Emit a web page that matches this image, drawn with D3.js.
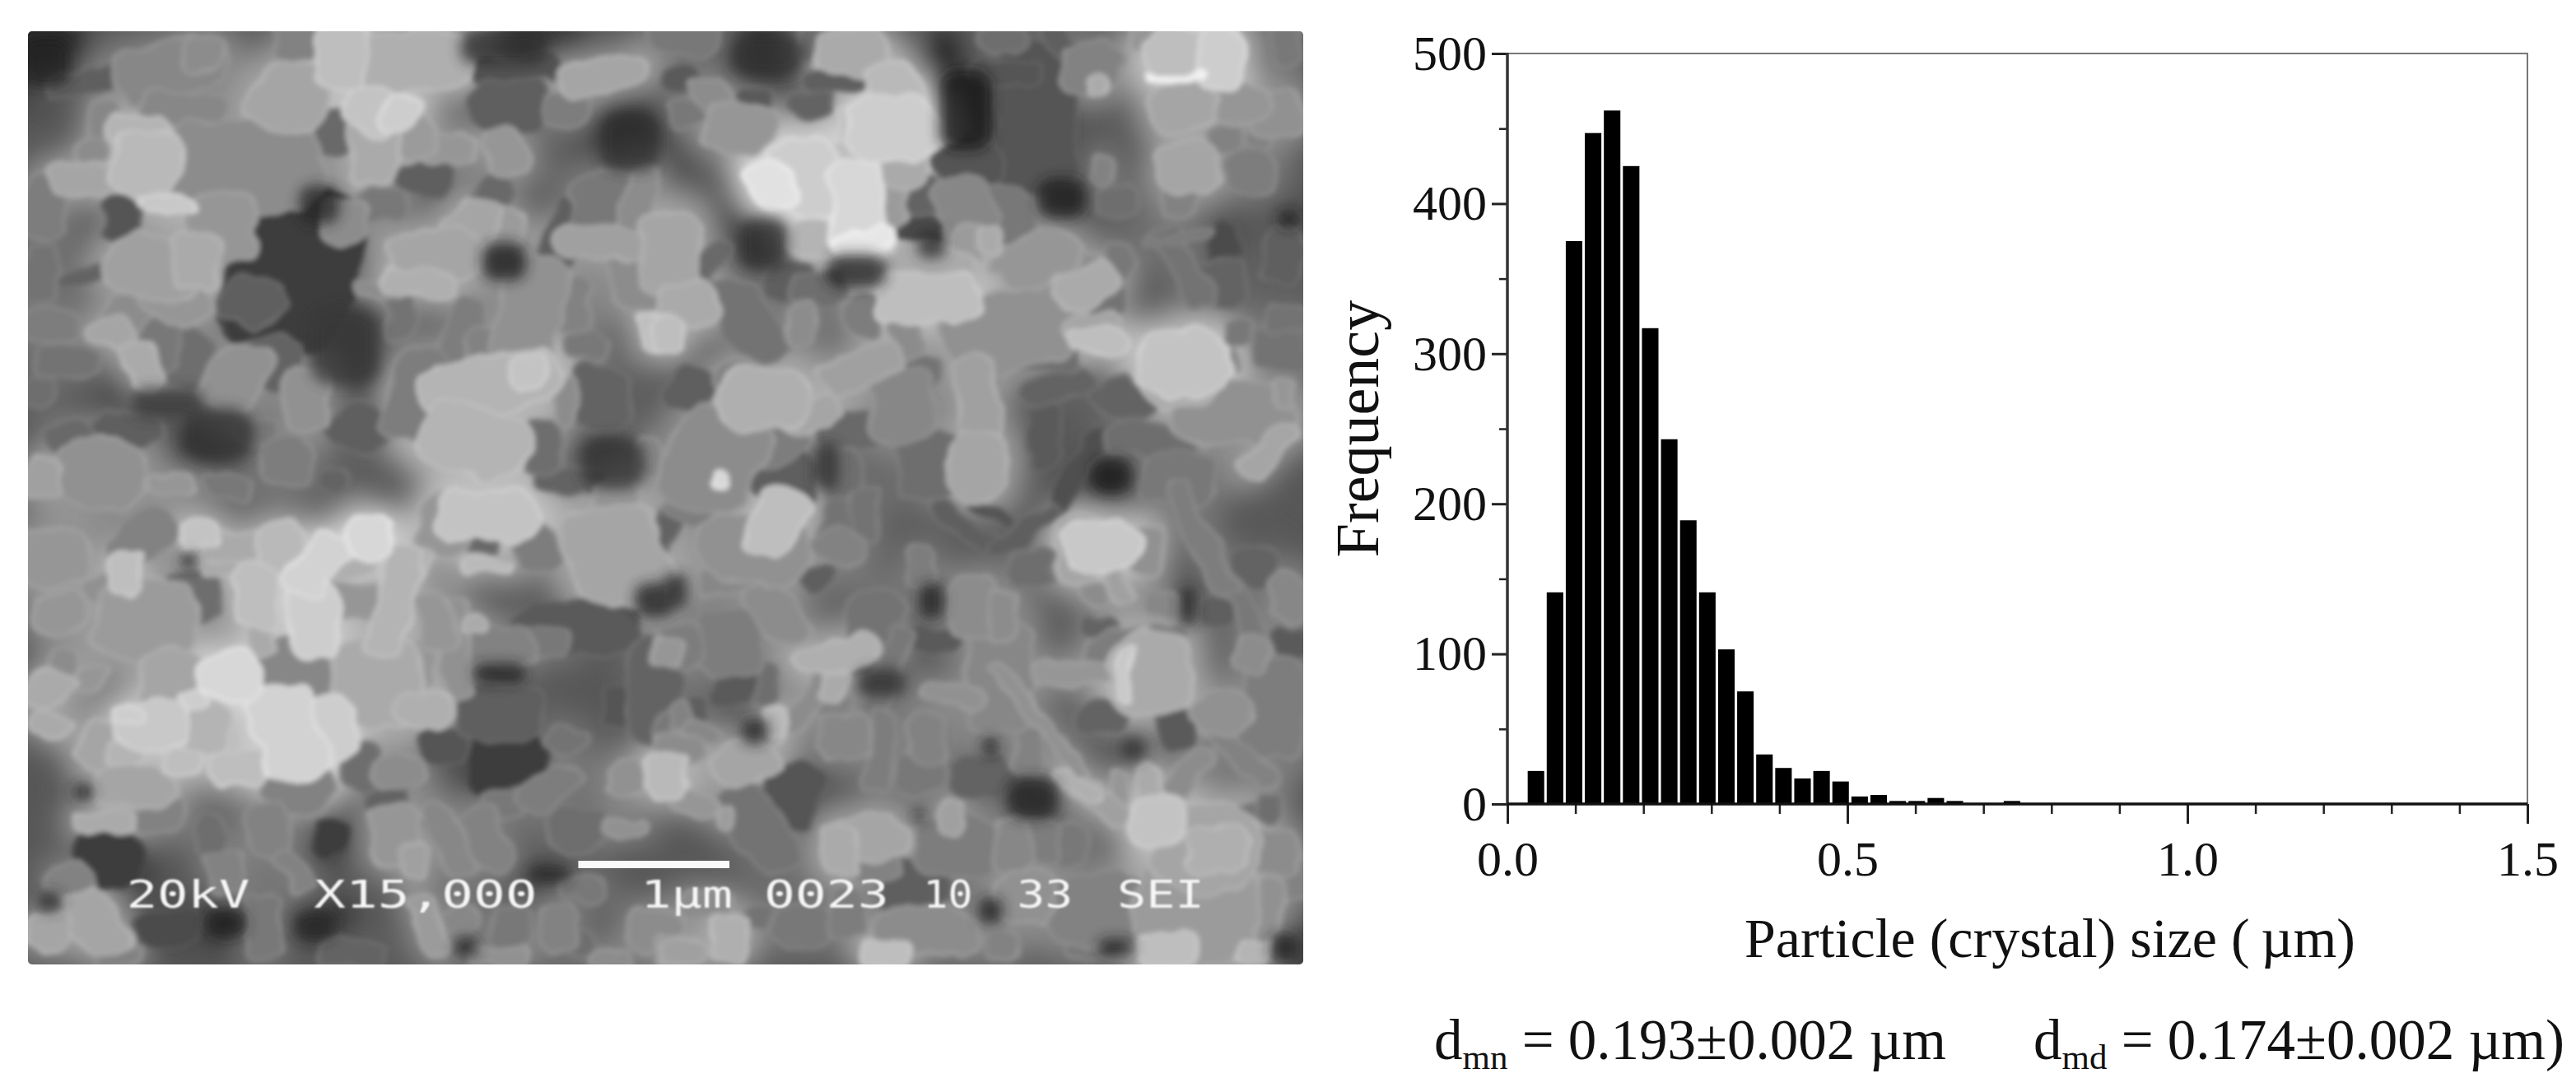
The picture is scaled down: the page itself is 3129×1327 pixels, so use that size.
<![CDATA[<!DOCTYPE html>
<html><head><meta charset="utf-8">
<script src="https://cdn.jsdelivr.net/npm/d3@7/dist/d3.min.js"></script>
<style>html,body{margin:0;padding:0;background:#fff;overflow:hidden}svg{display:block}</style>
</head><body><div id="chart"></div>
<script>
// ---- histogram data read from the picture ----
const binCenters = [0.042,0.070,0.098,0.126,0.154,0.182,0.210,0.238,0.266,0.294,0.322,0.350,0.378,0.406,0.434,0.462,0.490,0.518,0.546,0.574,0.602,0.630,0.658,0.686,0.714,0.742];
const frequency  = [22,141,375,447,462,425,317,243,189,141,103,75,33,24,17,22,15,5,6,2,2,4,2,0,0,2];
const binWidth = 0.0243;
const xMajor = [0,0.5,1.0,1.5], xMinor = [0.1,0.2,0.3,0.4,0.6,0.7,0.8,0.9,1.1,1.2,1.3,1.4];
const yMajor = [0,100,200,300,400,500], yMinor = [50,150,250,350,450];
const xTitle = "Particle (crystal) size (\u2009\u00b5m)", yTitle = "Frequency";
const statMn = ["d","mn"," = 0.193\u00b10.002 \u00b5m"], statMd = ["d","md"," = 0.174\u00b10.002 \u00b5m)"];
// ---- micrograph: SEM panel, grains traced by eye: centre x,y, w,h, angle, grey ----
const photoText = [["20kV",77,152],["X15,000",191,327],["1\u00b5m",390,446],["0023",465,541],["10",562,592],["33",619,653],["SEI",680,733]];
const grainsA = [[110,200,120,160,0,35],[700,850,240,420,10,62],[820,1100,170,260,0,55],[1200,830,110,130,0,30],[1500,450,150,200,0,45],[1460,1470,160,180,0,50],[520,1380,180,180,0,50],[1200,150,220,120,0,45],[760,650,100,130,0,40],[400,1280,180,100,0,55],[580,530,300,230,0,140],[200,260,150,60,-10,95],[400,220,220,130,-20,135],[480,170,70,90,0,140],[440,350,160,90,10,135],[250,390,60,110,0,135],[330,420,120,90,0,180],[350,520,130,170,10,185],[210,570,150,80,0,165],[215,480,60,60,0,140],[400,645,110,35,10,200],[105,660,80,150,0,125],[290,700,70,110,0,85],[530,720,130,170,0,150],[470,830,80,140,0,170],[370,850,190,150,20,160],[420,960,130,100,30,150],[300,1000,90,100,30,140],[270,1060,90,60,30,165],[340,1160,60,120,-20,170],[380,1090,70,130,0,120],[100,870,60,150,0,115],[120,1040,110,90,0,125],[160,1150,120,70,0,115],[90,1240,60,80,0,110],[210,870,120,40,-15,100],[560,1200,110,170,25,145],[450,1140,80,150,10,110],[730,1270,80,170,0,145],[650,1150,110,130,0,100],[600,960,120,120,30,95],[680,1470,90,120,0,125],[610,1370,80,60,0,120],[860,1360,120,130,40,95],[240,1500,170,180,0,145],[100,1520,70,100,0,160],[410,1540,90,60,0,150],[540,1540,90,60,0,120],[170,1390,90,80,0,105],[300,1370,140,70,0,95],[800,1520,60,60,0,100],[690,310,140,170,20,165],[700,130,70,100,0,130],[810,170,100,190,0,190],[960,200,240,150,-10,175],[1040,180,130,110,0,170],[890,350,120,110,30,195],[950,360,70,90,30,205],[890,480,90,170,0,170],[990,440,80,100,0,155],[1060,470,110,80,0,150],[780,420,110,120,0,105],[1015,570,100,90,0,95],[820,700,90,110,0,140],[910,650,90,80,0,120],[1205,480,80,120,-20,150],[1350,350,80,90,0,125],[1430,240,170,80,-15,165],[1210,340,150,130,0,95],[1230,220,170,60,-5,85],[1180,620,80,100,20,105],[1120,710,100,120,30,165],[1190,730,90,90,0,155],[1040,810,170,130,-15,165],[1000,900,130,70,10,175],[900,920,100,40,10,140],[950,1000,50,140,0,115],[1100,1050,60,170,15,125],[1260,1000,120,300,10,145],[1360,970,70,140,0,130],[1150,1130,70,130,0,130],[990,1250,100,230,10,125],[1160,1220,270,130,-15,180],[1260,1180,60,90,0,195],[1130,1400,210,170,20,180],[1350,1280,40,120,0,140],[1430,1260,110,170,0,100],[1400,1100,70,70,0,120],[1290,1420,70,140,0,110],[1430,650,120,170,0,120],[1520,640,60,180,10,140],[1430,770,170,80,10,160],[1530,880,120,180,0,140],[1550,1060,40,90,0,190],[1340,750,70,200,15,95],[1360,1530,130,60,0,100],[1545,1450,50,90,0,135]];
const grainsB = [[730,280,130,280,0,25],[260,100,180,150,0,50],[250,720,120,180,0,45],[470,810,150,120,0,35],[960,570,120,140,0,30],[650,720,70,100,0,45],[1500,640,50,60,0,30],[1080,1480,100,120,0,30],[400,1450,60,160,0,50],[900,300,150,380,0,85],[740,460,130,120,-10,85],[60,40,130,90,0,120],[460,90,130,130,0,170],[370,60,60,90,0,110],[420,180,110,60,0,95],[570,230,90,180,-20,185],[560,340,170,170,0,205],[470,330,60,100,0,190],[130,240,70,100,-20,140],[190,340,130,130,30,150],[60,290,70,70,0,120],[60,180,70,70,0,90],[220,250,60,60,0,90],[360,260,90,70,0,100],[430,430,110,80,-10,190],[580,450,100,130,0,170],[270,530,90,130,-25,225],[360,500,130,210,-10,205],[470,600,100,250,0,215],[390,700,120,90,0,180],[490,710,120,60,-25,230],[540,590,90,130,0,155],[620,570,80,100,0,100],[730,600,110,150,-15,135],[810,620,130,150,0,120],[620,680,70,70,0,75],[730,760,60,170,10,155],[790,710,40,70,0,170],[640,820,170,150,30,170],[640,900,200,130,0,190],[700,850,100,130,0,160],[30,750,110,220,0,165],[130,780,40,120,20,105],[70,920,110,120,0,170],[20,1020,60,90,0,190],[210,970,110,220,-30,115],[340,990,50,110,0,140],[490,950,70,110,15,125],[380,870,110,90,0,110],[310,840,100,100,0,95],[590,1030,60,100,-15,140],[900,770,170,130,-35,150],[1020,860,130,80,-35,170],[1000,780,60,90,-35,140],[850,1000,280,200,-20,145],[1050,1040,120,60,0,190],[1030,1000,100,90,0,165],[1090,800,60,110,25,120],[1060,900,90,80,0,115],[920,1100,120,60,0,110],[950,1190,150,70,-20,100],[760,1260,70,270,-5,160],[760,1450,110,170,0,165],[790,1130,50,60,0,130],[480,1130,170,90,-35,160],[250,1230,170,160,0,175],[360,1280,130,80,-20,165],[190,1160,90,70,0,130],[80,1200,100,120,30,95],[130,1430,180,260,20,140],[140,1500,30,50,0,215],[270,1380,130,110,-35,125],[460,1330,130,100,0,105],[580,1250,120,200,0,135],[600,1150,120,100,0,115],[640,1450,110,180,0,110],[440,1490,60,150,0,110],[300,1490,120,130,0,95],[920,1350,60,170,0,90],[1000,1460,40,250,25,80],[1100,1230,120,90,40,100],[1170,1360,160,90,0,110],[1240,1490,140,150,0,120],[1370,1280,230,150,0,145],[1450,1400,50,150,30,165],[1250,1110,170,170,0,195],[1240,1190,130,90,0,170],[1350,1110,40,80,0,135],[1480,1050,100,130,0,115],[1490,970,90,60,0,115],[1380,1010,50,70,0,120],[1490,1210,40,70,0,150],[1250,800,60,230,-20,115],[1320,850,130,120,0,100],[1490,760,80,140,0,95],[1350,720,50,130,0,75],[1240,700,130,20,-10,120],[1030,140,110,130,0,130],[1045,205,40,50,0,170],[1240,100,130,130,0,190],[1340,110,80,160,0,205],[1250,270,130,130,0,165],[1230,175,120,15,0,235],[1380,260,120,90,-30,150],[1470,290,100,130,0,145],[1260,470,110,130,0,165],[1350,380,60,70,0,130],[1430,380,50,60,0,130],[1410,490,100,110,0,125],[1240,580,60,90,0,130],[1060,470,40,80,0,130],[1090,580,70,80,0,110],[1180,40,90,70,0,150],[1490,70,60,110,0,120],[820,50,90,80,0,110],[960,60,50,100,-25,95],[830,160,140,60,0,85]];
const grainsC = [[390,220,40,60,0,35],[140,980,50,60,0,35],[1130,590,130,70,0,30],[1500,350,100,120,0,35],[480,1410,100,100,0,30],[690,1420,100,100,0,40],[60,1340,60,70,0,40],[1250,1250,100,60,0,40],[1050,1490,60,70,0,35],[200,1200,120,150,0,60],[1150,900,150,180,0,60],[730,1130,60,100,0,60],[70,210,130,150,0,150],[80,390,100,110,0,150],[190,310,90,70,-15,145],[240,260,55,110,0,190],[290,420,190,210,0,155],[400,340,100,140,0,110],[280,140,100,150,30,130],[415,130,80,80,0,195],[510,190,140,100,0,170],[610,180,90,130,0,185],[470,250,70,40,0,170],[555,340,80,170,0,190],[560,460,50,120,0,170],[700,230,80,170,30,210],[820,140,85,120,0,215],[780,250,100,50,-20,175],[690,420,90,190,0,205],[790,350,110,90,0,150],[880,350,70,290,10,180],[930,230,40,90,20,170],[650,590,130,190,-10,135],[840,620,170,230,0,170],[950,710,100,90,0,175],[950,560,40,120,0,150],[1020,510,60,260,-5,145],[980,420,70,150,-10,150],[1070,435,40,50,0,170],[1130,500,130,100,0,130],[1240,490,100,70,0,120],[1310,440,240,150,0,90],[1100,70,190,130,0,195],[1000,100,100,150,0,150],[1220,180,80,130,-20,125],[1100,240,100,40,0,185],[1090,170,60,50,0,105],[1410,200,180,260,-15,165],[1400,60,90,170,15,150],[1530,100,40,170,20,100],[1530,520,60,80,0,150],[1500,650,100,270,0,100],[1410,700,60,100,0,85],[1540,800,60,150,0,120],[1530,920,80,120,0,185],[1430,940,70,100,0,145],[1130,720,160,150,0,95],[1290,810,80,80,45,115],[1250,960,80,130,40,125],[1000,830,90,100,0,85],[190,830,100,130,10,165],[60,640,80,100,35,170],[60,760,80,60,30,170],[150,610,50,80,20,150],[90,550,60,60,0,140],[350,600,110,150,0,165],[490,600,120,120,0,215],[400,680,50,60,-30,205],[300,760,130,130,0,200],[250,720,50,50,0,205],[430,770,100,130,0,180],[630,790,120,250,-15,210],[735,770,80,170,0,205],[510,900,110,90,0,190],[380,880,70,70,0,190],[240,850,60,70,0,180],[650,970,130,130,20,130],[800,900,70,130,0,110],[890,910,90,90,0,140],[860,990,80,110,0,100],[260,960,150,100,0,165],[190,1080,110,60,0,170],[320,1060,90,100,0,130],[580,1110,90,130,0,130],[440,1120,50,100,0,110],[880,1130,90,150,0,150],[1010,1130,60,190,-20,135],[1100,1130,70,160,-20,130],[980,1060,60,80,0,115],[1310,1100,110,120,0,110],[1430,1100,90,40,0,145],[1140,1020,90,70,0,120],[480,1240,70,110,-15,130],[640,1240,40,120,-25,130],[930,1210,50,80,0,160],[110,1270,80,90,-40,130],[170,1410,90,170,-20,165],[60,1440,90,90,0,165],[220,1520,80,60,0,130],[570,1420,70,170,0,120],[960,1420,50,160,-15,155],[1030,1400,90,60,-30,135],[1270,1430,70,120,0,130],[1160,1430,70,100,0,120],[1330,1300,90,60,0,120],[1500,1430,100,110,0,140],[780,1510,120,60,0,100],[1130,1520,110,50,0,145],[1400,1530,80,50,0,140],[1540,1500,50,80,0,150],[1320,1480,60,60,0,110],[340,1430,130,100,0,75]];
const grainsD = [[230,780,70,90,0,35],[650,350,60,120,0,35],[790,830,40,60,0,30],[890,1000,130,150,0,35],[790,1370,60,90,0,30],[1090,1490,90,60,0,30],[1490,1490,70,100,0,30],[620,1060,30,40,0,25],[1260,370,40,130,0,35],[1130,840,60,80,0,50],[530,620,120,100,0,45],[40,320,60,120,0,40],[230,180,210,190,0,145],[280,90,90,170,15,190],[200,290,170,60,0,135],[70,60,90,60,30,125],[450,90,100,120,0,115],[430,180,80,100,-40,130],[490,70,50,140,0,115],[730,110,170,40,45,95],[800,70,110,30,45,85],[870,120,40,180,40,95],[625,240,60,100,0,125],[380,280,60,60,0,95],[280,390,90,150,-30,140],[170,490,130,170,0,125],[50,500,80,120,0,125],[510,450,110,220,15,115],[420,530,160,80,-20,175],[540,610,50,280,15,120],[750,380,90,160,0,140],[820,400,50,140,0,140],[810,600,120,300,0,135],[700,660,120,50,15,145],[650,480,100,70,0,90],[910,750,30,340,-30,145],[1000,590,190,60,0,150],[1090,530,120,140,0,125],[1170,590,150,210,0,170],[1110,590,30,130,0,200],[1060,170,150,120,0,200],[1000,180,80,170,0,165],[1160,190,60,130,0,145],[890,240,80,100,0,110],[1040,330,60,70,0,140],[1090,290,30,130,-15,160],[1200,360,70,60,0,135],[1210,450,70,40,0,130],[1050,440,70,60,0,100],[1290,150,50,300,-20,125],[1370,320,40,280,-20,120],[1500,340,70,130,0,135],[1420,240,80,100,0,100],[1330,390,60,80,0,95],[1415,520,50,90,15,140],[1500,490,60,80,0,90],[1340,720,110,110,-35,145],[1470,700,120,260,0,125],[1390,860,50,200,-35,130],[1270,900,40,150,25,125],[1230,770,70,100,0,90],[1050,740,100,100,0,100],[400,680,80,90,-40,130],[420,620,40,90,15,170],[350,700,50,150,30,140],[280,750,40,90,0,185],[270,800,50,50,0,170],[210,880,130,110,-30,165],[50,840,90,90,0,140],[50,730,40,70,0,130],[100,780,70,50,0,135],[440,800,90,120,0,135],[530,850,50,210,5,125],[640,810,70,130,0,130],[880,840,50,120,0,130],[180,630,80,110,0,90],[260,620,40,100,0,110],[100,700,40,60,0,95],[620,920,90,100,0,120],[770,930,130,110,0,100],[310,1000,110,180,20,85],[240,1100,100,230,-25,115],[90,1020,90,50,30,150],[160,1070,30,60,0,155],[500,1130,140,110,0,165],[430,1170,70,130,0,170],[700,1060,50,90,0,160],[710,1160,160,150,0,125],[610,1300,130,160,0,95],[840,1150,70,130,0,135],[910,1140,70,110,0,125],[980,1150,60,110,0,120],[1050,1010,160,60,45,160],[1000,960,40,120,-45,175],[1100,980,30,100,0,150],[1170,970,40,130,0,170],[1190,1080,100,130,0,195],[1300,1160,200,230,0,165],[1330,1170,110,130,0,175],[1260,920,50,140,30,140],[1400,1040,40,50,0,115],[1450,1030,40,70,0,110],[1460,1180,100,130,0,140],[1280,1370,230,280,0,155],[1210,1500,110,90,0,190],[1440,1380,70,160,15,145],[1050,1370,210,190,-15,130],[870,1320,120,140,0,145],[1030,1490,100,60,0,120],[820,1490,60,80,0,130],[640,1440,200,110,0,140],[540,1510,90,70,0,190],[450,1380,70,130,0,125],[340,1420,110,110,0,120],[170,1460,70,120,0,175],[60,1510,80,80,0,160],[110,1350,100,80,0,140],[240,1390,50,70,0,115],[1420,1510,70,60,0,180],[1520,1260,50,100,0,130],[510,1230,100,60,0,130]];

const W = 3129, H = 1327;
const svg = d3.select("#chart").append("svg").attr("width", W).attr("height", H).attr("viewBox", `0 0 ${W} ${H}`);
const serif = "'Liberation Serif','Times New Roman',serif";
const defs = svg.append("defs");
const mkBlur = (id,s) => defs.append("filter").attr("id",id).attr("filterUnits","userSpaceOnUse").attr("x",0).attr("y",0).attr("width",1700).attr("height",1250)
  .append("feGaussianBlur").attr("stdDeviation", s);
mkBlur("wash",18); mkBlur("gap",8); mkBlur("softText",0.8);
const organic = defs.append("filter").attr("id","organic").attr("filterUnits","userSpaceOnUse").attr("x",0).attr("y",0).attr("width",1700).attr("height",1250);
organic.append("feTurbulence").attr("type","fractalNoise").attr("baseFrequency",0.025).attr("numOctaves",2).attr("seed",7).attr("result","n");
organic.append("feDisplacementMap").attr("in","SourceGraphic").attr("in2","n").attr("scale",22).attr("xChannelSelector","R").attr("yChannelSelector","G").attr("result","d");
organic.append("feGaussianBlur").attr("in","d").attr("stdDeviation",3.2);
defs.append("clipPath").attr("id","photoClip").append("rect").attr("x",34).attr("y",38).attr("width",1549).attr("height",1134).attr("rx",5);

// ---- left: micrograph ----
const photo = svg.append("g").attr("clip-path","url(#photoClip)");
photo.append("rect").attr("x",34).attr("y",38).attr("width",1549).attr("height",1134).attr("fill","#585858");
const crops = [
  {g:grainsA,x:0,y:0,w:800,h:600},
  {g:grainsB,x:800,y:30,w:800,h:580},
  {g:grainsC,x:30,y:600,w:800,h:580},
  {g:grainsD,x:800,y:600,w:800,h:580}
];
const allGrains = crops.flatMap(c => {
  const sx = d3.scaleLinear().domain([0,1568]).range([c.x,c.x+c.w]);
  const sy = d3.scaleLinear().domain([0,1568]).range([c.y,c.y+c.h]);
  return c.g.map(d => ({d,sx,sy,k:[c.w/1568,c.h/1568]}));
}).sort((a,b)=>a.d[5]-b.d[5]);
const grey = v => { const n=Math.max(0,Math.min(255,Math.round(v))); return `rgb(${n},${n},${n})`; };
function drawGrains(layer, list, grow, edge){
  layer.selectAll("rect").data(list).join("rect")
    .attr("transform", o => `translate(${o.sx(o.d[0])},${o.sy(o.d[1])}) scale(${o.k[0]},${o.k[1]}) rotate(${o.d[4]})`)
    .attr("x", o => -o.d[2]*grow/2).attr("y", o => -o.d[3]*grow/2)
    .attr("width", o => o.d[2]*grow).attr("height", o => o.d[3]*grow)
    .attr("rx", o => Math.min(o.d[2],o.d[3])*grow*0.38)
    .attr("fill", o => grey(o.d[5]))
    .attr("stroke", o => edge ? grey(o.d[5]+16) : "none")
    .attr("stroke-width", edge ? 7 : 0);
}
const light = allGrains.filter(o => o.d[5] >= 60), dark = allGrains.filter(o => o.d[5] < 60);
drawGrains(photo.append("g").attr("filter","url(#wash)"), allGrains, 1.8, false);
drawGrains(photo.append("g").attr("filter","url(#organic)"), light, 1.28, true);
drawGrains(photo.append("g").attr("filter","url(#gap)").attr("opacity",0.8), dark, 0.95, false);
// scale bar & instrument caption
const px = d3.scaleLinear().domain([0,1568]).range([0,3129]);
photo.append("rect").attr("x",px(352)).attr("y",1046).attr("width",px(444)-px(352)).attr("height",9).attr("fill","#fafafa");
photo.append("g").attr("filter","url(#softText)").selectAll("text").data(photoText).join("text")
  .attr("x", d => px(d[1])).attr("y", 1103)
  .attr("textLength", d => px(d[2])-px(d[1])).attr("lengthAdjust","spacingAndGlyphs")
  .attr("font-family","'DejaVu Sans Mono',monospace").attr("font-size",46)
  .attr("fill","#f6f6f6").text(d => d[0]);

// ---- right: histogram ----
const x = d3.scaleLinear().domain([0,1.5]).range([1831,3070]);
const y = d3.scaleLinear().domain([0,500]).range([977,65]);
svg.append("g").selectAll("rect").data(binCenters.map((c,i)=>({c,f:frequency[i]}))).join("rect")
  .attr("x", d => x(d.c-binWidth/2)).attr("width", x(binWidth)-x(0))
  .attr("y", d => y(d.f)).attr("height", d => y(0)-y(d.f)).attr("fill","#000");
svg.append("path").attr("d",`M${x(0)},${y(500)}H${x(1.5)}V${y(0)}`).attr("fill","none").attr("stroke","#777").attr("stroke-width",2);

const style = (g,w) => { g.select(".domain").remove(); g.selectAll("line").attr("stroke","#222").attr("stroke-width",w); };
const noText = g => g.selectAll("text").remove();
svg.append("g").attr("transform",`translate(${x(0)},0)`).call(d3.axisLeft(y).tickValues(yMinor).tickSize(10)).call(style,2.5).call(noText);
svg.append("g").attr("transform",`translate(0,${y(0)})`).call(d3.axisBottom(x).tickValues(xMinor).tickSize(12)).call(style,2.5).call(noText);
const yAxis = svg.append("g").attr("transform",`translate(${x(0)},0)`)
  .call(d3.axisLeft(y).tickValues(yMajor).tickSize(19).tickPadding(6).tickFormat(d3.format("d"))).call(style,3);
const xAxis = svg.append("g").attr("transform",`translate(0,${y(0)})`)
  .call(d3.axisBottom(x).tickValues(xMajor).tickSize(24).tickPadding(20).tickFormat(d3.format(".1f"))).call(style,3);
for (const a of [yAxis,xAxis]) a.selectAll("text").attr("font-family",serif).attr("font-size",60).attr("fill","#111");
svg.append("line").attr("x1",x(0)).attr("x2",x(0)).attr("y1",y(500)-1).attr("y2",y(0)).attr("stroke","#333").attr("stroke-width",3.5);
svg.append("line").attr("x1",x(0)).attr("x2",x(1.5)).attr("y1",y(0)).attr("y2",y(0)).attr("stroke","#111").attr("stroke-width",3.5);

svg.append("text").attr("x",2490).attr("y",1163).attr("text-anchor","middle")
  .attr("font-family",serif).attr("font-size",68).attr("fill","#111").text(xTitle);
svg.append("text").attr("x",1674).attr("y",521).attr("transform","rotate(-90,1674,521)").attr("text-anchor","middle")
  .attr("font-family",serif).attr("font-size",74).attr("fill","#111").text(yTitle);
function stat(parts,xPos){
  const t = svg.append("text").attr("x",xPos).attr("y",1287).attr("font-family",serif).attr("font-size",69).attr("fill","#111");
  t.append("tspan").text(parts[0]);
  t.append("tspan").attr("font-size",43).attr("dy",12).text(parts[1]);
  t.append("tspan").attr("dy",-12).text(parts[2]);
}
stat(statMn,1742);
stat(statMd,2470);
</script></body></html>]]>
